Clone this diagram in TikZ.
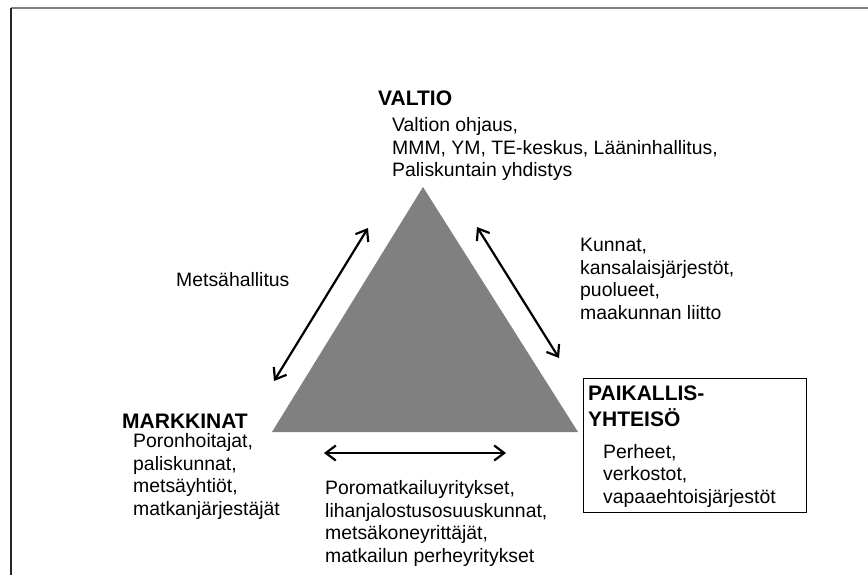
\documentclass[tikz,border=0pt]{standalone}
\usepackage{fontspec}
\setmainfont{Liberation Sans}
\usetikzlibrary{arrows.meta}

\begin{document}
\begin{tikzpicture}[x=1pt,y=-1pt]
		\useasboundingbox (0,0) rectangle (868,575);
		% frame (cut at right and bottom)
		\coordinate(frameTL) at (10.5,8.5);
		\coordinate(frameTR) at (868,8.5);
		\coordinate(frameBL) at (10.5,575);
		\draw[line width=2, gray] (frameTL) -- (frameTR);
		\draw[line width=2, black!85] (frameTL) -- (frameBL);

		% triangle
		\coordinate(apex) at (423,187);
		\coordinate(cornerR) at (578,432);
		\coordinate(cornerL) at (272,432);
		\fill[gray] (apex) -- (cornerR) -- (cornerL) -- cycle;

		% text nodes sit on the baseline of their last line
		\begin{scope}
			[
				styleHead/.style={anchor=base west, inner sep=0,
					font=\fontsize{21}{26}\selectfont\bfseries, align=left},
				styleTxt/.style={anchor=base west, inner sep=0,
					font=\fontsize{19.4}{22.5}\selectfont, align=left},
				styleBox/.style={draw, line width=1.4, anchor=north west,
					minimum width=223, minimum height=134, inner sep=0},
			]
			\node(valtio)[styleHead] at (378,106) {VALTIO};
			\node(valtioTxt)[styleTxt] at (392,177)
				{Valtion ohjaus,\\MMM, YM, TE-keskus, Lääninhallitus,\\Paliskuntain yhdistys};

			\node(metsa)[styleTxt] at (176,286) {Metsähallitus};
			\node(kunnat)[styleTxt] at (580,319)
				{Kunnat,\\kansalaisjärjestöt,\\puolueet,\\maakunnan liitto};

			\node(markkinat)[styleHead] at (122,428) {MARKKINAT};
			\node(markkinatTxt)[styleTxt] at (133,515)
				{Poronhoitajat,\\paliskunnat,\\metsäyhtiöt,\\matkanjärjestäjät};

			\node(yrityksetTxt)[styleTxt] at (325,562)
				{Poromatkailuyritykset,\\lihanjalostusosuuskunnat,\\metsäkoneyrittäjät,\\matkailun perheyritykset};

			\node(yhteiso)[styleBox] at (583,378) {};
			\node(yhteisoHead)[styleHead] at (588,426) {PAIKALLIS-\\YHTEISÖ};
			\node(yhteisoTxt)[styleTxt] at (603,503)
				{Perheet,\\verkostot,\\vapaaehtoisjärjestöt};

			% arrow ends
			\coordinate(mL) at (274,381);
			\coordinate(vL) at (368,228);
			\coordinate(vR) at (477,227);
			\coordinate(pR) at (559,358);
			\coordinate(mB) at (324,453);
			\coordinate(pB) at (506,453);
		\end{scope}

		\begin{scope}
			[ link/.style = {<->, line width=2.2},
				>={Straight Barb[length=10,width=15]}]
			\draw[link] (mL) -- (vL);
			\draw[link] (vR) -- (pR);
			\draw[link] (mB) -- (pB);
		\end{scope}
	\end{tikzpicture}
\end{document}
